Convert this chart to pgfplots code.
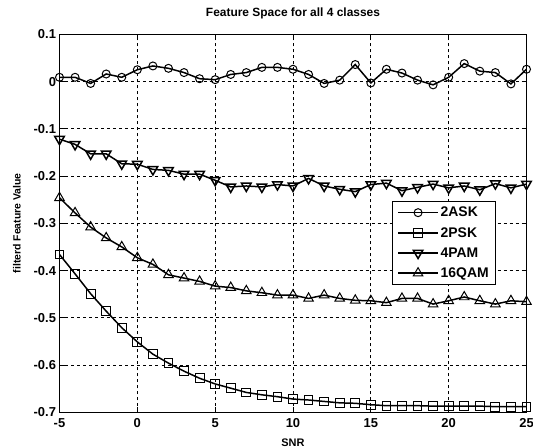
\documentclass[border=0pt]{standalone}
\usepackage{pgfplots}
\pgfplotsset{compat=1.18}
\usepackage{fontspec}
\setmainfont{Liberation Sans}
\begin{document}
\begin{tikzpicture}
\begin{axis}[
  name=ax,
  scale only axis,
  width=467bp, height=378bp,
  xmin=-5, xmax=25, ymin=-0.7, ymax=0.1,
  xtick={-5,0,...,25},
  ytick={-0.7,-0.6,...,0.1},
  yticklabels={-0.7,-0.6,-0.5,-0.4,-0.3,-0.2,-0.1,0,0.1},
  tick align=inside,
  major tick length=5bp,
  tick style={black, line width=0.7pt},
  axis line style={line width=1.1pt},
  grid=major,
  grid style={black, line width=0.7pt, dash pattern=on 3bp off 3bp},
  ticklabel style={font=\fontsize{13}{15}\selectfont\bfseries},
  xticklabel style={yshift=-3bp},
  /pgf/number format/assume math mode=true,
  title={\fontsize{12}{14}\selectfont\bfseries Feature Space for all 4 classes},
  title style={at={(axis description cs:0.5,1.04)}, anchor=center},
  xlabel={\fontsize{11}{13}\selectfont\bfseries SNR},
  ylabel={\fontsize{10.5}{12}\selectfont\bfseries filterd Feature Value},
  xlabel style={at={(axis description cs:0.5,-0.08)}, anchor=center},
  ylabel style={at={(axis description cs:-0.091,0.5)}, anchor=center},
  legend style={at={(0.935,0.560)}, anchor=north east, draw=black, line width=0.9pt,
    font=\fontsize{14}{16}\selectfont\bfseries, row sep=5bp, inner xsep=5bp, inner ysep=4bp,
    legend image code/.code={\draw[mark repeat=2,mark phase=2] plot coordinates {(0cm,0cm)(0.7cm,0cm)(1.4cm,0cm)};}},
  legend cell align=left,
  every axis plot/.append style={black, line width=1.5pt, mark options={solid, fill=white, line width=1pt}, mark size=4bp},
]
\addplot[mark=o] coordinates {
(-5,0.009)(-4,0.009)(-3,-0.004)(-2,0.016)(-1,0.009)(0,0.025)(1,0.033)(2,0.028)(3,0.019)(4,0.006)
(5,0.004)(6,0.015)(7,0.019)(8,0.030)(9,0.030)(10,0.026)(11,0.015)(12,-0.004)(13,0.003)(14,0.036)
(15,-0.003)(16,0.026)(17,0.018)(18,0.003)(19,-0.007)(20,0.009)(21,0.038)(22,0.022)(23,0.019)(24,-0.005)(25,0.026)};
\addlegendentry{2ASK}
\addplot[mark=square, mark size=4.4bp] coordinates {
(-5,-0.366)(-4,-0.407)(-3,-0.449)(-2,-0.486)(-1,-0.521)(0,-0.551)(1,-0.577)(2,-0.596)(3,-0.613)(4,-0.628)
(5,-0.640)(6,-0.649)(7,-0.658)(8,-0.663)(9,-0.667)(10,-0.672)(11,-0.674)(12,-0.677)(13,-0.680)(14,-0.681)
(15,-0.684)(16,-0.686)(17,-0.686)(18,-0.686)(19,-0.687)(20,-0.687)(21,-0.687)(22,-0.687)(23,-0.688)(24,-0.688)(25,-0.688)};
\addlegendentry{2PSK}
\addplot[mark=triangle, mark size=5.5bp, mark options={rotate=180}] coordinates {
(-5,-0.122)(-4,-0.133)(-3,-0.153)(-2,-0.153)(-1,-0.174)(0,-0.175)(1,-0.186)(2,-0.188)(3,-0.196)(4,-0.196)
(5,-0.209)(6,-0.223)(7,-0.221)(8,-0.223)(9,-0.218)(10,-0.221)(11,-0.205)(12,-0.221)(13,-0.228)(14,-0.233)
(15,-0.218)(16,-0.215)(17,-0.231)(18,-0.224)(19,-0.217)(20,-0.225)(21,-0.221)(22,-0.229)(23,-0.216)(24,-0.225)(25,-0.217)};
\addlegendentry{4PAM}
\addplot[mark=triangle, mark size=5.5bp] coordinates {
(-5,-0.246)(-4,-0.278)(-3,-0.308)(-2,-0.331)(-1,-0.350)(0,-0.373)(1,-0.387)(2,-0.409)(3,-0.416)(4,-0.423)
(5,-0.433)(6,-0.436)(7,-0.443)(8,-0.447)(9,-0.452)(10,-0.452)(11,-0.459)(12,-0.452)(13,-0.459)(14,-0.463)
(15,-0.464)(16,-0.468)(17,-0.459)(18,-0.459)(19,-0.471)(20,-0.464)(21,-0.456)(22,-0.464)(23,-0.471)(24,-0.464)(25,-0.466)};
\addlegendentry{16QAM}
\end{axis}
\pgfresetboundingbox
\path (ax.south west) ++(-59.5bp,-35.5bp) coordinate (bbA);
\path (ax.north east) ++(6.5bp,34.3bp) coordinate (bbB);
\useasboundingbox (bbA) rectangle (bbB);
\end{tikzpicture}
\end{document}
